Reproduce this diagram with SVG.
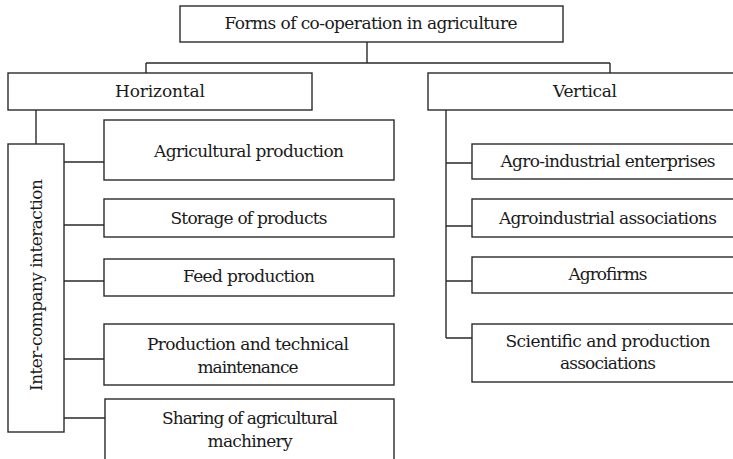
<svg xmlns="http://www.w3.org/2000/svg" width="733" height="459" viewBox="0 0 733 459">
<style>
.box{fill:#fff;stroke:#2a2a2a;stroke-width:1.4}
.ln{fill:none;stroke:#2a2a2a;stroke-width:1.4}
.t{font-family:'DejaVu Serif','Liberation Serif',serif;font-size:17px;fill:#1a1a1a;text-anchor:middle}
</style>
<rect width="733" height="459" fill="#fff"/>
<g id="connectors">
<path class="ln" d="M367,42V63M146,63H610M146,63V73M610,63V73"/>
<path class="ln" d="M36,110V144"/>
<path class="ln" d="M64,162H104M64,225H104M64,281H104M64,359H104M64,418H105"/>
<path class="ln" d="M446,110V338M446,163H472M446,226H472M446,281H472M446,338H472"/>
</g>
<g class="t">
<g id="root"><rect class="box" x="180" y="6" width="383" height="36"/><text x="371" y="29" textLength="293">Forms of co-operation in agriculture</text></g>
<g id="horizontal"><rect class="box" x="8" y="73" width="304" height="37"/><text x="160" y="97" textLength="90">Horizontal</text></g>
<g id="vertical"><rect class="box" x="428" y="73" width="320" height="37"/><text x="585" y="97" textLength="64">Vertical</text></g>
<g id="inter"><rect class="box" x="8" y="144" width="56" height="288"/><text transform="translate(42,285) rotate(-90)" textLength="212">Inter-company interaction</text></g>
<g id="agri"><rect class="box" x="104" y="120" width="290" height="60"/><text x="249" y="157" textLength="190">Agricultural production</text></g>
<g id="storage"><rect class="box" x="104" y="199" width="290" height="38"/><text x="249" y="224" textLength="157">Storage of products</text></g>
<g id="feed"><rect class="box" x="104" y="259" width="290" height="37"/><text x="249" y="282" textLength="132">Feed production</text></g>
<g id="prodtech"><rect class="box" x="104" y="324" width="290" height="61"/><text x="248" y="350" textLength="202">Production and technical</text><text x="248" y="373" textLength="101">maintenance</text></g>
<g id="sharing"><rect class="box" x="105" y="399" width="289" height="70"/><text x="250" y="424" textLength="176">Sharing of agricultural</text><text x="250" y="447" textLength="85">machinery</text></g>
<g id="agroent"><rect class="box" x="472" y="144" width="280" height="35"/><text x="608" y="167" textLength="215">Agro-industrial enterprises</text></g>
<g id="agroassoc"><rect class="box" x="472" y="199" width="280" height="38"/><text x="608" y="224" textLength="218">Agroindustrial associations</text></g>
<g id="agrofirms"><rect class="box" x="472" y="257" width="280" height="36"/><text x="608" y="280" textLength="79">Agrofirms</text></g>
<g id="scientific"><rect class="box" x="472" y="324" width="280" height="58"/><text x="608" y="347" textLength="205">Scientific and production</text><text x="608" y="369" textLength="96">associations</text></g>
</g>
</svg>
